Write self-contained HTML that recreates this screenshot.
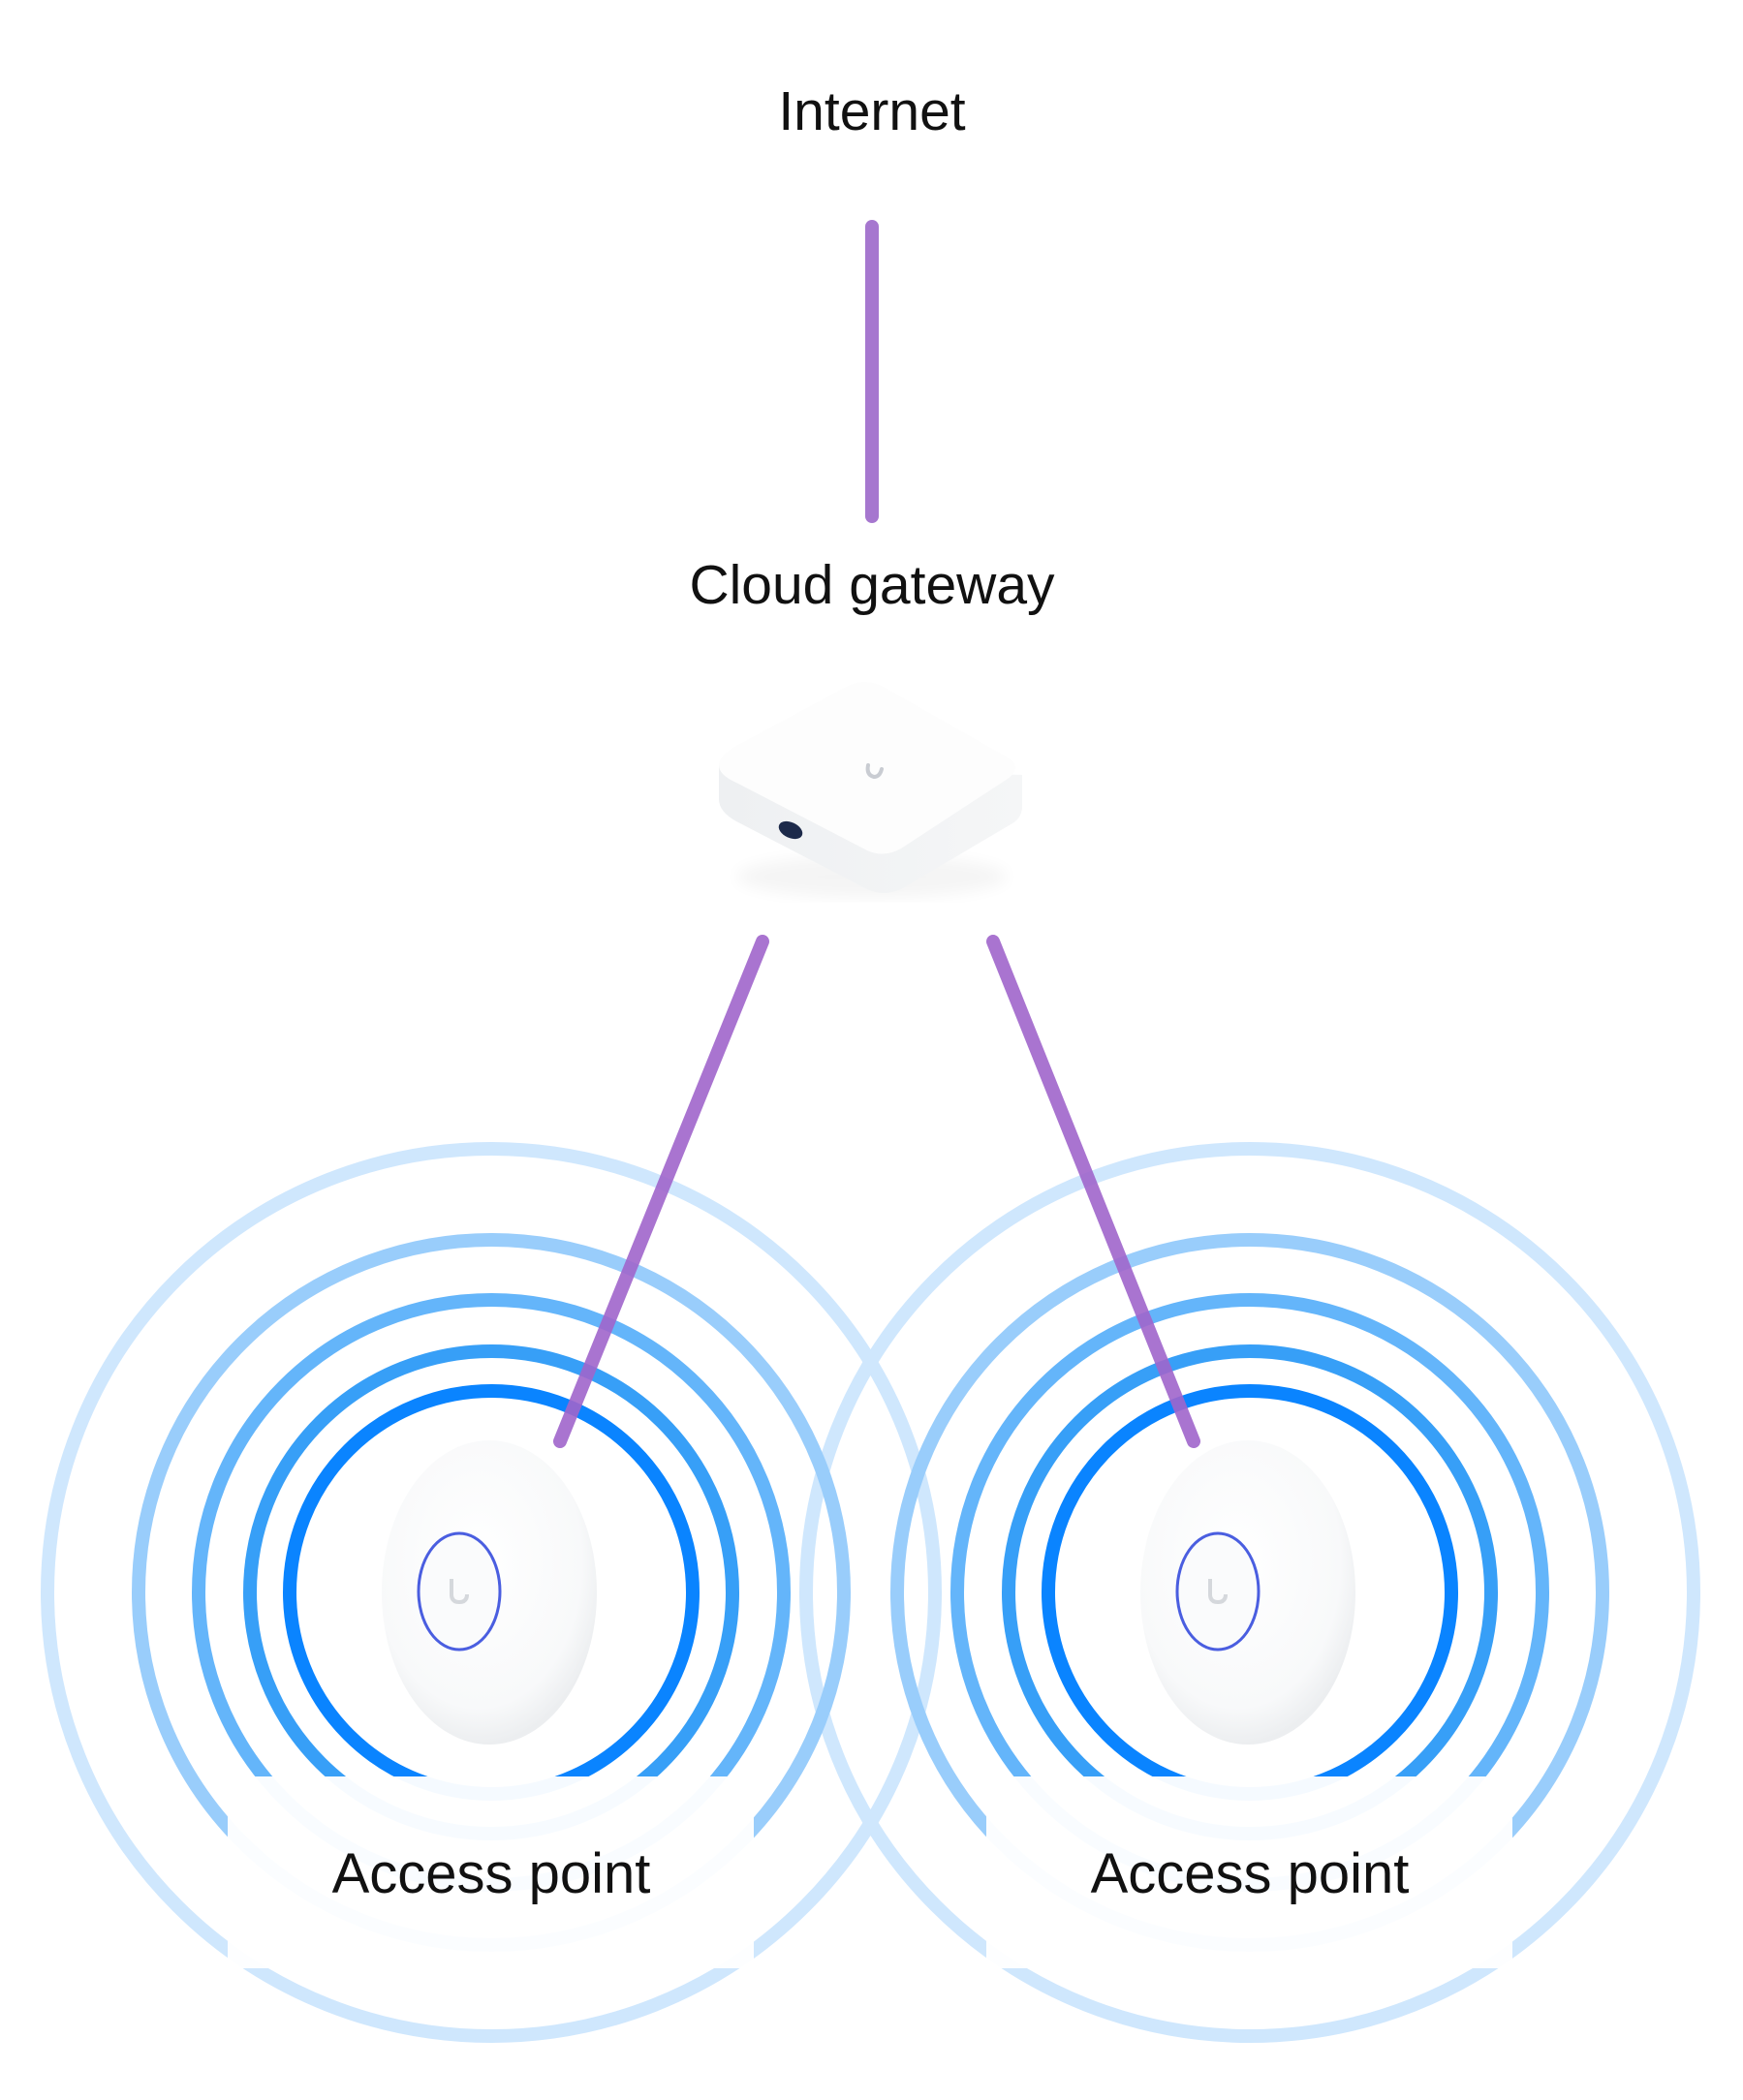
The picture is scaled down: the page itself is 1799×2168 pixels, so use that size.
<!DOCTYPE html>
<html><head><meta charset="utf-8"><style>
html,body{margin:0;padding:0;background:#fff;}
svg{display:block;}
text{font-family:"Liberation Sans",sans-serif;fill:#111;}
</style></head><body>
<svg width="1799" height="2168" viewBox="0 0 1799 2168" xmlns="http://www.w3.org/2000/svg">
<defs>
<radialGradient id="ap" cx="0.45" cy="0.4" r="0.6">
<stop offset="0" stop-color="#ffffff"/><stop offset="0.8" stop-color="#f8f9fa"/><stop offset="1" stop-color="#eceef0"/>
</radialGradient>
<linearGradient id="side" x1="0" y1="0" x2="1" y2="0">
<stop offset="0" stop-color="#eef0f2"/><stop offset="1" stop-color="#f5f6f7"/>
</linearGradient>
<filter id="blur"><feGaussianBlur stdDeviation="8"/></filter>
</defs>
<text x="900" y="134" font-size="57" text-anchor="middle">Internet</text>
<line x1="900" y1="234" x2="900" y2="533" stroke="#a677cf" stroke-width="14" stroke-linecap="round"/>
<text x="900" y="623" font-size="57" text-anchor="middle">Cloud gateway</text>
<!-- gateway -->
<ellipse cx="900" cy="905" rx="140" ry="22" fill="#000" opacity="0.04" filter="url(#blur)"/>
<path d="M742 790 L742 825 Q742 838 760 848 L895 918 Q912 926 930 918 L1045 850 Q1055 844 1055 832 L1055 800 Z" fill="url(#side)"/>
<path d="M742 790 Q742 780 760 770 L875 708 Q892 700 910 708 L1040 782 Q1056 792 1040 804 L930 876 Q912 886 895 878 L760 808 Q742 800 742 790 Z" fill="#fdfdfd"/>
<path d="M896 790 q-2 10 6 12 q6 0 8 -8" fill="none" stroke="#c9ccd2" stroke-width="4" stroke-linecap="round"/>
<ellipse cx="816" cy="857" rx="13" ry="8" transform="rotate(25 816 857)" fill="#1d2a4a"/>
<g fill="none" stroke-width="14">
<circle cx="507" cy="1644" r="458" stroke="#cfe7fd"/>
<circle cx="1290" cy="1644" r="458" stroke="#cfe7fd"/>
<circle cx="507" cy="1644" r="364" stroke="#99cdfb"/>
<circle cx="1290" cy="1644" r="364" stroke="#99cdfb"/>
<circle cx="507" cy="1644" r="302" stroke="#64b5fa"/>
<circle cx="1290" cy="1644" r="302" stroke="#64b5fa"/>
<circle cx="507" cy="1644" r="249" stroke="#379ff7"/>
<circle cx="1290" cy="1644" r="249" stroke="#379ff7"/>
<circle cx="507" cy="1644" r="208" stroke="#0a84ff"/>
<circle cx="1290" cy="1644" r="208" stroke="#0a84ff"/>
</g>
<rect x="235" y="1834" width="543" height="198" fill="#fff" opacity="0.96"/>
<rect x="1018" y="1834" width="543" height="198" fill="#fff" opacity="0.96"/>
<text x="507" y="1954" font-size="58" text-anchor="middle">Access point</text>
<text x="1290" y="1954" font-size="58" text-anchor="middle">Access point</text>
<g stroke="#a066cc" stroke-width="14" stroke-linecap="round" opacity="0.9">
<line x1="787" y1="972" x2="578" y2="1488"/>
<line x1="1025" y1="972" x2="1232" y2="1488"/>
</g>
<g>
<ellipse cx="505" cy="1644" rx="111" ry="157" fill="url(#ap)"/>
<ellipse cx="474" cy="1643" rx="42" ry="60" fill="#fafbfc" stroke="#4a5ee0" stroke-width="3"/>
<path d="M466 1630 v16 q0 8 8 8 q8 0 8 -8" fill="none" stroke="#d5d8dc" stroke-width="4"/>
<ellipse cx="1288" cy="1644" rx="111" ry="157" fill="url(#ap)"/>
<ellipse cx="1257" cy="1643" rx="42" ry="60" fill="#fafbfc" stroke="#4a5ee0" stroke-width="3"/>
<path d="M1249 1630 v16 q0 8 8 8 q8 0 8 -8" fill="none" stroke="#d5d8dc" stroke-width="4"/>
</g>
</svg>
</body></html>
